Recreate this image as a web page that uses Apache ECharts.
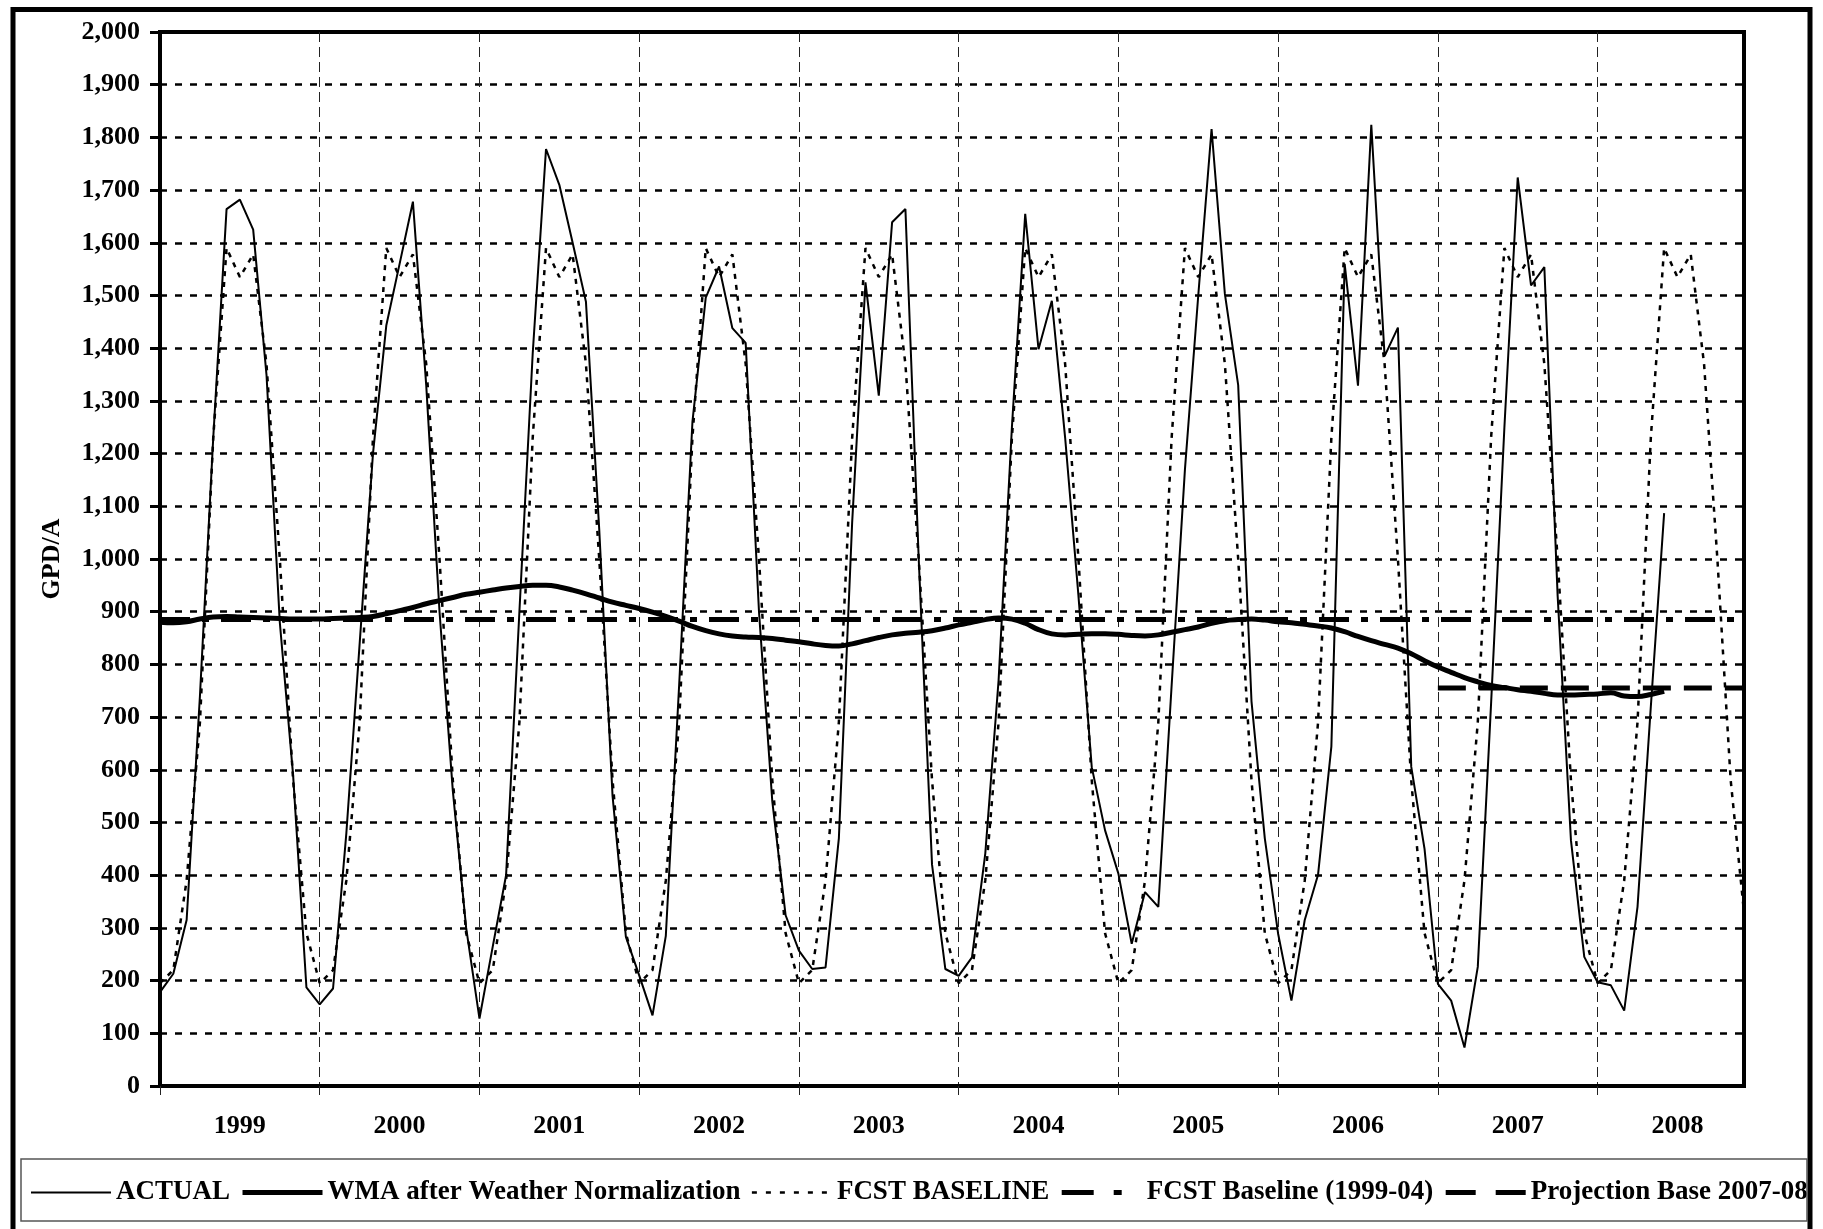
<!DOCTYPE html>
<html><head><meta charset="utf-8">
<script src="https://cdn.jsdelivr.net/npm/echarts@6/dist/echarts.min.js"></script>
<style>html,body{margin:0;padding:0;background:#fff}#c{width:1823px;height:1229px}</style>
</head><body><div id="c"></div>
<script>
// ---------- DATA ----------
const years = ['1999','2000','2001','2002','2003','2004','2005','2006','2007','2008'];
const months = ['01','02','03','04','05','06','07','08','09','10','11','12'];

// ACTUAL (GPD/A), monthly
const actual1999 = [178, 213, 315, 740, 1230, 1664, 1682, 1625, 1350, 880, 590, 187];
const actual2000 = [155, 185, 480, 840, 1200, 1443, 1560, 1678, 1330, 900, 560, 300];
const actual2001 = [128, 265, 400, 900, 1390, 1778, 1710, 1600, 1488, 1055, 550, 283];
const actual2002 = [210, 134, 285, 760, 1260, 1496, 1555, 1438, 1410, 900, 540, 324];
const actual2003 = [257, 222, 225, 470, 1070, 1525, 1310, 1639, 1664, 1000, 420, 222];
const actual2004 = [209, 244, 441, 770, 1250, 1655, 1398, 1490, 1230, 930, 605, 485];
const actual2005 = [403, 270, 368, 340, 760, 1170, 1500, 1816, 1503, 1330, 730, 470];
const actual2006 = [289, 162, 315, 401, 644, 1560, 1329, 1824, 1385, 1439, 606, 450];
const actual2007 = [194, 162, 73, 226, 726, 1250, 1724, 1519, 1554, 930, 466, 245];
const actual2008 = [197, 191, 143, 340, 720, 1087];

// WMA after Weather Normalization, monthly
const wma1999 = [880, 879, 881, 886, 890, 891, 890, 889, 888, 887, 886, 886];
const wma2000 = [886, 887, 888, 889, 891, 896, 902, 908, 915, 921, 927, 933];
const wma2001 = [937, 941, 945, 948, 950, 950, 947, 941, 934, 926, 918, 912];
const wma2002 = [906, 899, 891, 882, 872, 864, 858, 854, 852, 851, 849, 846];
const wma2003 = [843, 839, 836, 835, 839, 845, 851, 856, 859, 861, 864, 869];
const wma2004 = [875, 880, 885, 888, 886, 878, 866, 858, 856, 857, 858, 858];
const wma2005 = [857, 855, 854, 856, 861, 866, 871, 878, 883, 885, 886, 884];
const wma2006 = [881, 879, 876, 873, 869, 862, 853, 845, 838, 831, 820, 807];
const wma2007 = [795, 785, 775, 767, 760, 756, 752, 749, 745, 742, 742, 743];
const wma2008 = [744, 746, 740, 739, 743, 749];

// FCST BASELINE, monthly
const fcst1999 = [195, 220, 390, 690, 1230, 1590, 1535, 1578, 1370, 1000, 580, 290];
const fcst2000 = [195, 220, 390, 690, 1230, 1590, 1535, 1578, 1370, 1000, 580, 290];
const fcst2001 = [195, 220, 390, 690, 1230, 1590, 1535, 1578, 1370, 1000, 580, 290];
const fcst2002 = [195, 220, 390, 690, 1230, 1590, 1535, 1578, 1370, 1000, 580, 290];
const fcst2003 = [195, 220, 390, 690, 1230, 1590, 1535, 1578, 1370, 1000, 580, 290];
const fcst2004 = [195, 220, 390, 690, 1230, 1590, 1535, 1578, 1370, 1000, 580, 290];
const fcst2005 = [195, 220, 390, 690, 1230, 1590, 1535, 1578, 1370, 1000, 580, 290];
const fcst2006 = [195, 220, 390, 690, 1230, 1590, 1535, 1578, 1370, 1000, 580, 290];
const fcst2007 = [195, 220, 390, 690, 1230, 1590, 1535, 1578, 1370, 1000, 580, 290];
const fcst2008 = [195, 220, 390, 690, 1230, 1590, 1535, 1578, 1370, 1000, 580, 330];

// Flat reference levels (start, end)
const baseline9904Span = ['1999-01', '2008-12'];
const baseline9904 = [885, 885];
const projectionSpan = ['2007-01', '2008-12'];
const projectionBase = [755, 755];

const seriesNames = ['ACTUAL', 'WMA after Weather Normalization', 'FCST BASELINE',
  'FCST Baseline (1999-04)', 'Projection Base 2007-08'];

// ---------- BUILD ----------
const categories = [];
years.forEach(y => months.forEach(m => categories.push(y + '-' + m)));
const actual = [].concat(actual1999, actual2000, actual2001, actual2002, actual2003,
  actual2004, actual2005, actual2006, actual2007, actual2008);
const wma = [].concat(wma1999, wma2000, wma2001, wma2002, wma2003,
  wma2004, wma2005, wma2006, wma2007, wma2008);
const fcst = [].concat(fcst1999, fcst2000, fcst2001, fcst2002, fcst2003,
  fcst2004, fcst2005, fcst2006, fcst2007, fcst2008);

const FONT = "'Liberation Serif', 'Times New Roman', serif";
const chart = echarts.init(document.getElementById('c'), null, {renderer: 'canvas'});

chart.setOption({
  animation: false,
  backgroundColor: '#fff',
  grid: {left: 160, right: 79, top: 32, bottom: 143, show: true,
    borderColor: '#000', borderWidth: 4, backgroundColor: 'transparent'},
  graphic: [
    {type: 'rect', z: 100, silent: true,
      shape: {x: 13, y: 9.5, width: 1797, height: 1240},
      style: {fill: 'none', stroke: '#000', lineWidth: 5}},
    {type: 'rect', z: 100, silent: true,
      shape: {x: 21, y: 1159, width: 1786, height: 62},
      style: {fill: 'none', stroke: '#555', lineWidth: 1.5}}
  ],
  legend: {
    data: [
      {name: seriesNames[0]},
      {name: seriesNames[1]},
      {name: seriesNames[2], lineStyle: {type: [5, 9]}},
      {name: seriesNames[3], lineStyle: {type: [32, 20, 8, 30]}},
      {name: seriesNames[4], lineStyle: {type: [30, 20]}}
    ],
    left: 30, top: 1179, padding: 0,
    itemWidth: 80, itemHeight: 14, itemGap: 10,
    itemStyle: {opacity: 0},
    lineStyle: {width: 'inherit'},
    textStyle: {fontFamily: FONT, fontSize: 27, fontWeight: 'bold', color: '#000'}
  },
  xAxis: {
    type: 'category', data: categories, boundaryGap: false,
    axisLine: {lineStyle: {color: '#000', width: 4}},
    axisTick: {show: true, interval: (i) => i % 12 === 0, length: 9,
      lineStyle: {color: '#222', width: 1, type: [10, 5]}},
    axisLabel: {interval: (i) => i % 12 === 6, formatter: (v) => v.slice(0, 4),
      margin: 27, fontFamily: FONT, fontSize: 26, fontWeight: 'bold', color: '#000'},
    splitLine: {show: true, interval: (i) => i % 12 === 0 && i > 0,
      lineStyle: {color: '#222', width: 1, type: [10, 5]}}
  },
  yAxis: {
    type: 'value', min: 0, max: 2000, interval: 100,
    name: 'GPD/A', nameLocation: 'middle', nameGap: 95, nameRotate: 90,
    nameTextStyle: {fontFamily: FONT, fontSize: 26, fontWeight: 'bold', color: '#000'},
    axisLine: {show: true, lineStyle: {color: '#000', width: 4}},
    axisTick: {show: true, length: 10, lineStyle: {color: '#000', width: 3}},
    axisLabel: {margin: 20, fontFamily: FONT, fontSize: 26, fontWeight: 'bold', color: '#000',
      formatter: (v) => v.toLocaleString('en-US')},
    splitLine: {show: true, lineStyle: {color: '#000', width: 2.5, type: [7, 8]}}
  },
  series: [
    {name: seriesNames[0], type: 'line', data: actual, symbol: 'none', z: 5,
      lineStyle: {color: '#000', width: 2}, itemStyle: {color: '#000'}},
    {name: seriesNames[1], type: 'line', data: wma, symbol: 'none', smooth: 0.4, z: 6,
      lineStyle: {color: '#000', width: 5}, itemStyle: {color: '#000'}},
    {name: seriesNames[2], type: 'line', data: fcst, symbol: 'none', z: 4,
      lineStyle: {color: '#000', width: 2.5, type: [5, 6]}, itemStyle: {color: '#000'}},
    {name: seriesNames[3], type: 'line', symbol: 'none', z: 4,
      data: baseline9904Span.map((c, i) => [c, baseline9904[i]]),
      lineStyle: {color: '#000', width: 5, type: [30, 12, 7, 12]}, itemStyle: {color: '#000'}},
    {name: seriesNames[4], type: 'line', symbol: 'none', z: 4,
      data: projectionSpan.map((c, i) => [c, projectionBase[i]]),
      lineStyle: {color: '#000', width: 5, type: [28, 13]}, itemStyle: {color: '#000'}}
  ]
});
</script></body></html>
